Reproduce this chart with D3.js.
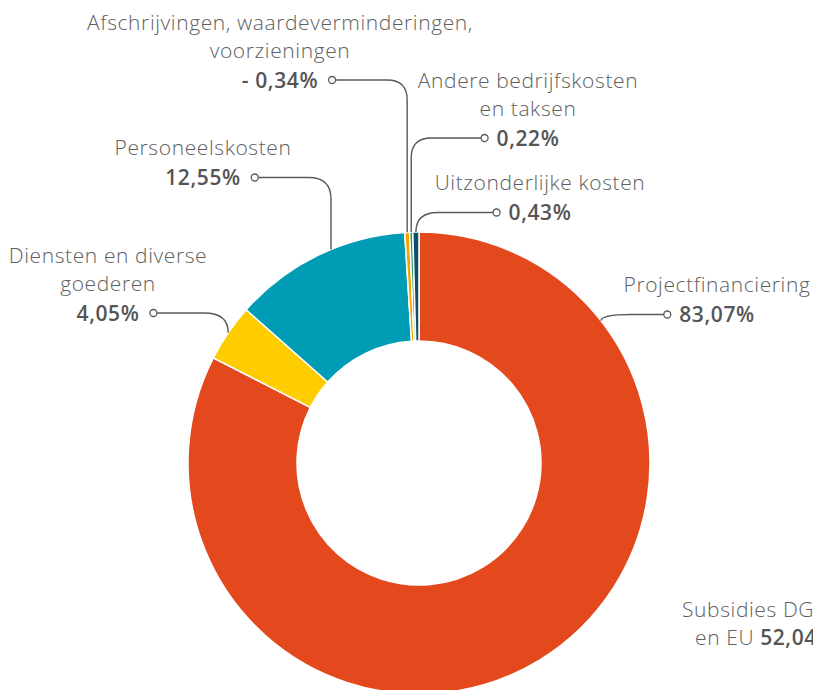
<!DOCTYPE html>
<html>
<head>
<meta charset="utf-8">
<script src="https://cdn.jsdelivr.net/npm/d3@7"></script>
<style>
  body { margin: 0; background: #fff; }
  svg { display: block; }
  .name { font-family: "Open Sans", Lato, sans-serif; font-weight: 300; fill: #606060; font-size: 21px; letter-spacing: 0.6px; }
  .pct { font-family: "Open Sans", Lato, sans-serif; font-weight: 600; fill: #555; font-size: 21px; letter-spacing: 0.6px; }
  .leader { fill: none; stroke: #595959; stroke-width: 1.4; }
  .dot { fill: #fff; stroke: #595959; stroke-width: 1.3; }
</style>
</head>
<body>
<div id="chart"></div>
<script>
// kostenverdeling (clockwise from top)
const categories = ["Projectfinanciering", "Diensten en diverse goederen", "Personeelskosten",
  "Afschrijvingen, waardeverminderingen, voorzieningen", "Andere bedrijfskosten en taksen", "Uitzonderlijke kosten"];
const values = [83.07, 4.05, 12.55, -0.34, 0.22, 0.43];
const valueLabels = ["83,07%", "4,05%", "12,55%", "- 0,34%", "0,22%", "0,43%"];
const nameLines = [
  ["Projectfinanciering"],
  ["Diensten en diverse", "goederen"],
  ["Personeelskosten"],
  ["Afschrijvingen, waardeverminderingen,", "voorzieningen"],
  ["Andere bedrijfskosten", "en taksen"],
  ["Uitzonderlijke kosten"]
];
const colors = ["#E4491D", "#FFCC00", "#009CB5", "#F5A300", "#1EA35E", "#0C4E6B"];

// sub label of project financing
const subLabel = ["Subsidies DGD", "en EU", "52,04%"];

const width = 813, height = 690;
const cx = 419, cy = 463, outerR = 231, innerR = 122;

// label layout: center x, first baseline, dot side, where on the slice the leader lands
const labelPos = [
  { x: 717, y: 292, side: "left", at: 0.175, bend: 30 },
  { x: 108, y: 263, side: "right", at: 0.5, bend: 24 },
  { x: 203, y: 155, side: "right", at: 0.58, bend: 22 },
  { x: 280, y: 30, side: "right", at: 0.5, bend: 20 },
  { x: 528, y: 88, side: "left", at: 0.5, bend: 20 },
  { x: 540, y: 190, side: "left", at: 0.5, bend: 22 }
];
const lineH = 27.5, pctGap = 30;

const svg = d3.select("#chart").append("svg")
  .attr("width", width).attr("height", height);

const g = svg.append("g").attr("transform", `translate(${cx},${cy})`);

const pie = d3.pie().sort(null).value(d => Math.abs(d));
const arcs = pie(values);
const arc = d3.arc().innerRadius(innerR).outerRadius(outerR);

g.selectAll("path.slice")
  .data(arcs)
  .join("path")
  .attr("class", "slice")
  .attr("d", arc)
  .attr("fill", (d, i) => colors[i])
  .attr("stroke", "#fff")
  .attr("stroke-width", 1.5);

// labels
const labels = svg.append("g");
arcs.forEach((a, i) => {
  const p = labelPos[i];
  const t = labels.append("g");
  nameLines[i].forEach((ln, k) => {
    t.append("text").attr("class", "name")
      .attr("x", p.x).attr("y", p.y + k * lineH)
      .attr("text-anchor", "middle").text(ln);
  });
  const py = p.y + (nameLines[i].length - 1) * lineH + pctGap;
  const pt = t.append("text").attr("class", "pct")
    .attr("x", p.x).attr("y", py)
    .attr("text-anchor", "middle").text(valueLabels[i]);
  const bb = pt.node().getBBox();
  const dx = p.side === "left" ? bb.x - 12 : bb.x + bb.width + 14;
  const dy = py - 7.5;

  // anchor point on outer edge of slice
  const ang = a.startAngle + (a.endAngle - a.startAngle) * p.at;
  const ax = cx + outerR * Math.sin(ang);
  const ay = cy - outerR * Math.cos(ang);
  const s = ax > dx ? 1 : -1;
  const drop = ay - dy;
  const r = Math.min(p.bend, drop);
  const path = d3.path();
  path.moveTo(dx + s * 3.5, dy);
  path.lineTo(ax - s * p.bend, dy);
  path.quadraticCurveTo(ax, dy, ax, dy + r);
  path.lineTo(ax, ay);
  labels.append("path").attr("class", "leader").attr("d", path.toString());
  labels.append("circle").attr("class", "dot").attr("cx", dx).attr("cy", dy).attr("r", 3.5);
});

// sub label (runs off the right edge, as in the source)
const sy = 617;
svg.append("text").attr("class", "name").attr("x", 682).attr("y", sy)
  .text(subLabel[0]);
const s2 = svg.append("text").attr("class", "name").attr("x", 695).attr("y", sy + lineH + 0.5);
s2.append("tspan").text(subLabel[1] + " ");
s2.append("tspan").attr("class", "pct").text(subLabel[2]);
</script>
</body>
</html>
